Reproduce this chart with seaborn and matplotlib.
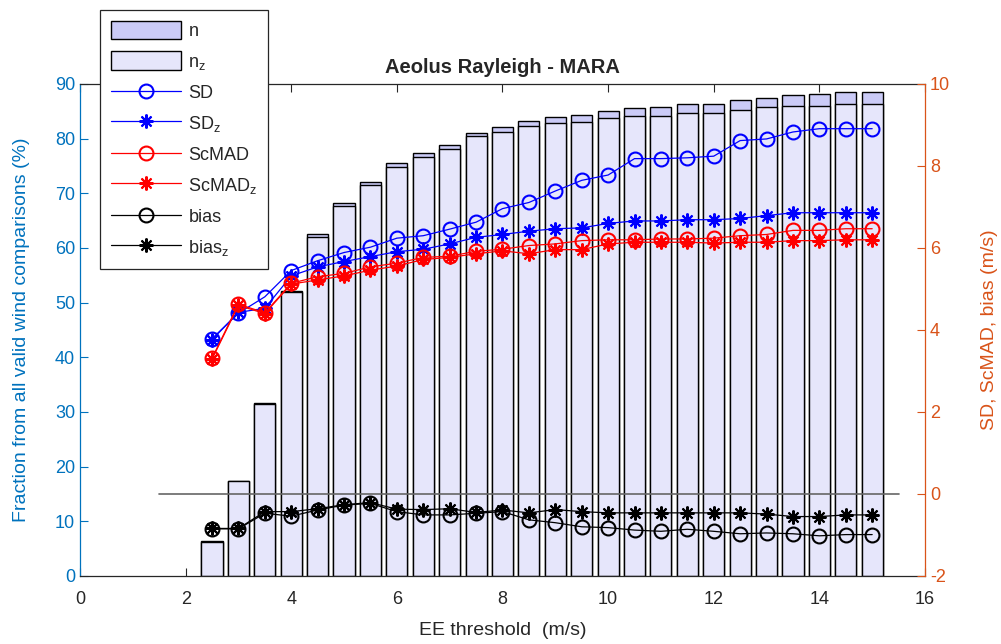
import numpy as np
import pandas as pd
import matplotlib
matplotlib.use('Agg')
from matplotlib import pyplot as plt
from matplotlib.patches import Patch
from matplotlib.lines import Line2D
import seaborn as sns

# EE threshold (m/s)
thr = [2.5, 3.0, 3.5, 4.0, 4.5, 5.0, 5.5, 6.0, 6.5, 7.0, 7.5, 8.0, 8.5,
       9.0, 9.5, 10.0, 10.5, 11.0, 11.5, 12.0, 12.5, 13.0, 13.5, 14.0, 14.5, 15.0]

# fraction of comparisons (%)
n = [6.4, 17.4, 31.7, 52.1, 62.5, 68.3, 72.1, 75.5, 77.4, 78.9, 81.1, 82.2, 83.3,
     83.9, 84.4, 85.0, 85.6, 85.8, 86.3, 86.4, 87.1, 87.5, 88.0, 88.2, 88.6, 88.6]
n_z = [6.3, 17.3, 31.4, 51.9, 62.0, 67.6, 71.6, 74.8, 76.7, 78.2, 80.5, 81.3, 82.3,
       82.9, 83.1, 83.7, 84.1, 84.1, 84.7, 84.7, 85.2, 85.8, 86.0, 86.0, 86.3, 86.3]

# statistics (m/s)
sd = [3.79, 4.41, 4.81, 5.45, 5.69, 5.89, 6.02, 6.24, 6.30, 6.46, 6.63, 6.96, 7.11,
      7.39, 7.65, 7.78, 8.18, 8.18, 8.20, 8.24, 8.62, 8.66, 8.83, 8.91, 8.91, 8.91]
sd_z = [3.76, 4.43, 4.53, 5.32, 5.54, 5.67, 5.79, 5.91, 5.97, 6.10, 6.26, 6.33, 6.41,
        6.47, 6.49, 6.60, 6.66, 6.66, 6.69, 6.69, 6.72, 6.79, 6.86, 6.86, 6.86, 6.86]
scmad = [3.31, 4.63, 4.42, 5.14, 5.30, 5.38, 5.54, 5.63, 5.77, 5.80, 5.92, 5.97, 6.06,
         6.10, 6.18, 6.20, 6.20, 6.22, 6.22, 6.24, 6.30, 6.33, 6.43, 6.43, 6.47, 6.47]
scmad_z = [3.29, 4.60, 4.40, 5.12, 5.22, 5.32, 5.46, 5.56, 5.72, 5.77, 5.86, 5.93, 5.86,
           5.96, 5.96, 6.10, 6.14, 6.14, 6.14, 6.12, 6.14, 6.14, 6.18, 6.18, 6.20, 6.20]
bias = [-0.85, -0.85, -0.47, -0.54, -0.39, -0.27, -0.23, -0.43, -0.51, -0.51, -0.47, -0.43, -0.63,
        -0.70, -0.80, -0.82, -0.88, -0.91, -0.86, -0.91, -0.97, -0.95, -0.97, -1.02, -0.99, -0.99]
bias_z = [-0.84, -0.84, -0.43, -0.43, -0.36, -0.26, -0.21, -0.37, -0.38, -0.36, -0.45, -0.39, -0.46,
          -0.38, -0.43, -0.46, -0.46, -0.46, -0.46, -0.46, -0.46, -0.49, -0.55, -0.55, -0.51, -0.51]

data = pd.DataFrame({'thr': thr, 'n': n, 'n_z': n_z, 'sd': sd, 'sd_z': sd_z,
                     'scmad': scmad, 'scmad_z': scmad_z, 'bias': bias, 'bias_z': bias_z})

blue_ax = '#0072BD'
orange_ax = '#D95319'
c_n = '#cbcbf7'
c_nz = '#e6e6fb'
star = (8, 2, 0)

sns.set_style("ticks")
plt.rcParams['font.family'] = ['Liberation Sans', 'DejaVu Sans']
plt.rcParams['axes.linewidth'] = 0.9
plt.rcParams['axes.unicode_minus'] = False

fig = plt.figure(figsize=(10.01, 6.44), dpi=100)
ax = fig.add_axes([80 / 1001, 1 - 576 / 644, 845 / 1001, 492 / 644])

sns.barplot(data=data, x='thr', y='n', native_scale=True, color=c_n, saturation=1,
            edgecolor='k', linewidth=1, errorbar=None, ax=ax)
sns.barplot(data=data, x='thr', y='n_z', native_scale=True, color=c_nz, saturation=1,
            edgecolor='k', linewidth=1, errorbar=None, ax=ax)

ax2 = ax.twinx()
ax2.plot([1.5, 15.5], [0, 0], color='0.4', lw=1.2)

series = [('sd', 'SD', 'b', 'o'), ('sd_z', r'$\mathregular{SD_z}$', 'b', star),
          ('scmad', 'ScMAD', 'r', 'o'), ('scmad_z', r'$\mathregular{ScMAD_z}$', 'r', star),
          ('bias', 'bias', 'k', 'o'), ('bias_z', r'$\mathregular{bias_z}$', 'k', star)]
handles = [Patch(facecolor=c_n, edgecolor='k', lw=1, label='n'),
           Patch(facecolor=c_nz, edgecolor='k', lw=1, label=r'$\mathregular{n_z}$')]
for col, lab, color, mk in series:
    sns.lineplot(data=data, x='thr', y=col, color=color, marker=mk, ms=10,
                 mfc='none', mec=color, mew=1.5, lw=0.9, ax=ax2)
    handles.append(Line2D([], [], color=color, marker=mk, ms=10, mfc='none',
                          mec=color, mew=1.5, lw=0.9, label=lab))

ax.set_xlim(0, 16)
ax.set_ylim(0, 90)
ax2.set_ylim(-2, 10)
ax.set_xticks(np.arange(0, 17, 2))
ax.set_xticklabels([str(v) for v in range(0, 17, 2)])
ax.set_yticks(np.arange(0, 91, 10))
ax2.set_yticks(np.arange(-2, 11, 2))

ax.tick_params(axis='x', direction='in', length=6, top=True, labelsize=13, pad=11, colors='#262626')
ax.tick_params(axis='y', direction='in', length=6, labelsize=13, colors=blue_ax)
ax2.tick_params(axis='y', direction='in', length=6, labelsize=13, colors=orange_ax)

for s in ['left', 'right', 'top', 'bottom']:
    ax2.spines[s].set_visible(s == 'right')
ax.spines['right'].set_visible(False)
ax.spines['left'].set_color(blue_ax)
ax.spines['top'].set_color('#262626')
ax.spines['bottom'].set_color('#262626')
ax2.spines['right'].set_color(orange_ax)

ax.set_xlabel('EE threshold  (m/s)', fontsize=14, color='#262626', labelpad=10)
ax.set_ylabel('Fraction from all valid wind comparisons (%)', fontsize=14, color=blue_ax, labelpad=18)
ax2.set_ylabel('SD, ScMAD, bias (m/s)', fontsize=14, color=orange_ax, labelpad=22)
ax.set_title('Aeolus Rayleigh - MARA', fontsize=14.5, fontweight='bold', pad=8)

leg = ax2.legend(handles=handles, loc='upper left', bbox_to_anchor=(100 / 1001, 1 - 10 / 644),
                 bbox_transform=fig.transFigure, borderaxespad=0, fontsize=13,
                 handlelength=3.9, handleheight=1.2, handletextpad=0.4, labelspacing=0.62,
                 fancybox=False, framealpha=1, edgecolor='#262626', borderpad=0.6)
leg.get_frame().set_linewidth(0.9)

plt.savefig('out.png', dpi=100)
